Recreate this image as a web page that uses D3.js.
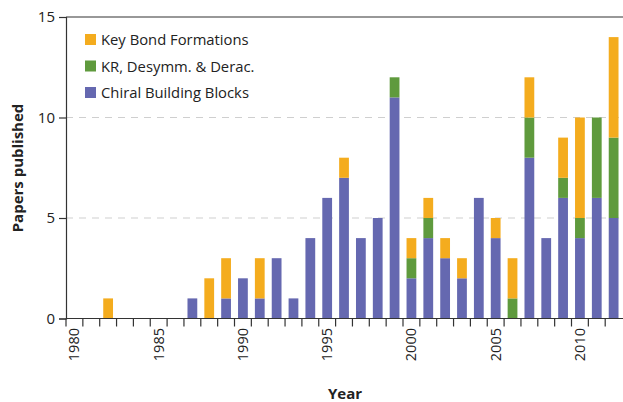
<!DOCTYPE html>
<html>
<head>
<meta charset="utf-8">
<script src="https://cdn.jsdelivr.net/npm/d3@7"></script>
<style>
  body { margin: 0; background: #fff; }
  text { font-family: "Open Sans", "Noto Sans", sans-serif; fill: #222; }
</style>
</head>
<body>
<svg id="chart" width="623" height="402"></svg>
<script>
// data
const years = d3.range(1980, 2013);
const chiral = [0,0,0,0,0,0,0,1,0,1,2,1,3,1,4,6,7,4,5,11,2,4,3,2,6,4,0,8,4,6,4,6,5];
const krDerac = [0,0,0,0,0,0,0,0,0,0,0,0,0,0,0,0,0,0,0,1,1,1,0,0,0,0,1,2,0,1,1,4,4];
const keyBond = [0,0,1,0,0,0,0,0,2,2,0,2,0,0,0,0,1,0,0,0,1,1,1,1,0,1,2,2,0,2,5,0,5];
const seriesNames = ["Chiral Building Blocks", "KR, Desymm. & Derac.", "Key Bond Formations"];
const colors = ["#6568b0", "#5f9a3d", "#f4ac1e"];
const yTicks = [0, 5, 10, 15];
const xLabels = [1980, 1985, 1990, 1995, 2000, 2005, 2010];

const margin = { left: 66, top: 17 };
const width = 623;

const rows = years.map((y, i) => ({ year: y, chiral: chiral[i], kr: krDerac[i], key: keyBond[i] }));
const stack = d3.stack().keys(["chiral", "kr", "key"])(rows);

const svg = d3.select("#chart");

const x = d3.scaleBand().domain(years)
  .range([margin.left, margin.left + years.length * 16.85])
  .paddingInner(0.42).paddingOuter(0.21);
const y = d3.scaleLinear().domain([0, 15]).range([318.5, margin.top]);
const step = x.step();
const gap = x.paddingInner() * step / 2;

// gridlines
svg.append("g").selectAll("line")
  .data([5, 10]).enter().append("line")
  .attr("x1", margin.left).attr("x2", width)
  .attr("y1", d => y(d)).attr("y2", d => y(d))
  .attr("stroke", "#cfcfcf").attr("stroke-dasharray", "7,6");

// top frame line
svg.append("line")
  .attr("x1", margin.left).attr("x2", width)
  .attr("y1", y(15)).attr("y2", y(15))
  .attr("stroke", "#333").attr("stroke-width", 1.2);

// bars
svg.append("g").selectAll("g")
  .data(stack).enter().append("g")
  .attr("fill", (d, i) => colors[i])
  .selectAll("rect")
  .data(d => d.filter(s => s[1] > s[0])).enter().append("rect")
  .attr("x", d => x(d.data.year))
  .attr("width", x.bandwidth())
  .attr("y", d => y(d[1]))
  .attr("height", d => y(d[0]) - y(d[1]));

// x axis: ticks on band boundaries
const xAxis = svg.append("g");
xAxis.append("line")
  .attr("x1", margin.left).attr("x2", width)
  .attr("y1", y(0)).attr("y2", y(0))
  .attr("stroke", "#333").attr("stroke-width", 1.2);
xAxis.selectAll("line.tick")
  .data(years).enter().append("line")
  .attr("class", "tick")
  .attr("x1", d => x(d) - gap).attr("x2", d => x(d) - gap)
  .attr("y1", y(0)).attr("y2", y(0) + 8)
  .attr("stroke", "#333").attr("stroke-width", 1.2);
xAxis.selectAll("text")
  .data(xLabels).enter().append("text")
  .attr("transform", d => `translate(${x(d) + x.bandwidth() / 2 + 5},328) rotate(-90)`)
  .attr("text-anchor", "end")
  .attr("font-size", 14.5)
  .text(d => d);
svg.append("text")
  .attr("x", 345).attr("y", 399)
  .attr("text-anchor", "middle")
  .attr("font-size", 15).attr("font-weight", "bold")
  .text("Year");

// y axis
const yAxis = svg.append("g")
  .attr("transform", `translate(${margin.left},0)`)
  .call(d3.axisLeft(y).tickValues(yTicks).tickSize(7).tickPadding(4));
yAxis.select(".domain").attr("stroke", "#333").attr("stroke-width", 1.2);
yAxis.selectAll(".tick line").attr("stroke", "#333").attr("stroke-width", 1.2);
yAxis.selectAll(".tick text").attr("font-size", 15).attr("font-family", "'Open Sans', sans-serif").attr("fill", "#222");
svg.append("text")
  .attr("transform", "translate(23,168) rotate(-90)")
  .attr("text-anchor", "middle")
  .attr("font-size", 15).attr("font-weight", "bold")
  .text("Papers published");

// legend
const legendOrder = [2, 1, 0];
const legend = svg.append("g").selectAll("g")
  .data(legendOrder).enter().append("g")
  .attr("transform", (d, i) => `translate(85,${34 + i * 26.5})`);
legend.append("rect").attr("width", 11).attr("height", 11).attr("fill", d => colors[d]);
legend.append("text").attr("x", 16).attr("y", 11).attr("font-size", 14.8).text(d => seriesNames[d]);
</script>
</body>
</html>
